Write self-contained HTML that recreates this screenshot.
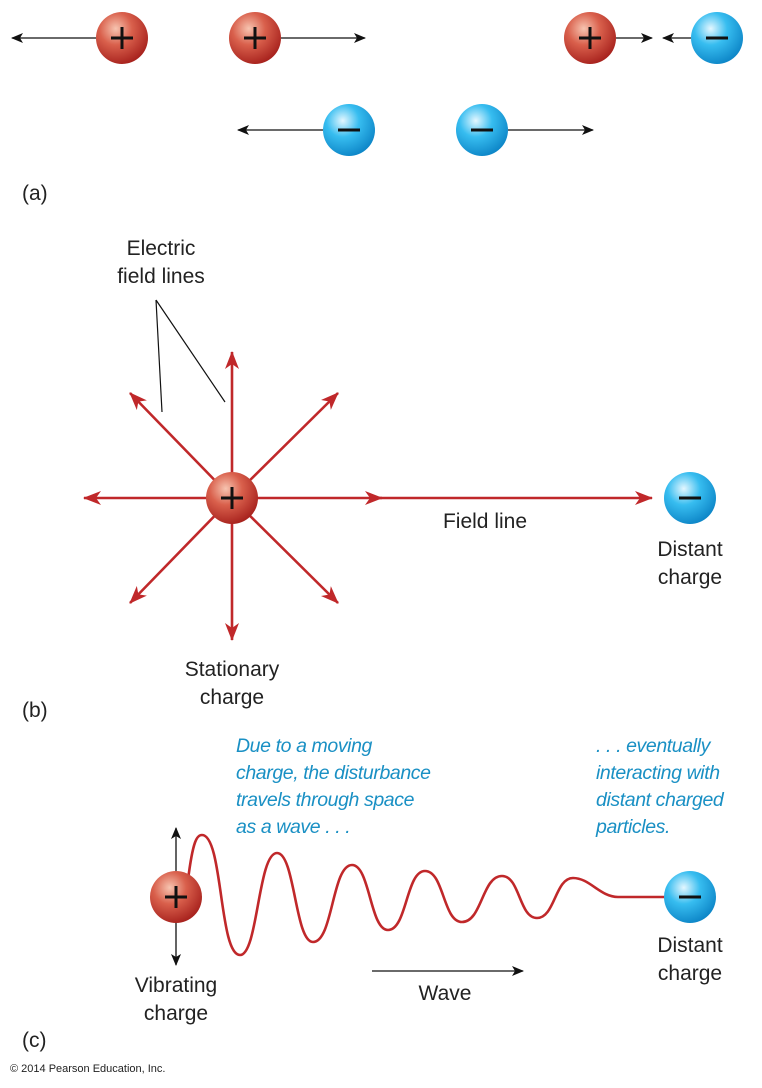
<!DOCTYPE html>
<html><head><meta charset="utf-8"><style>
body{margin:0;background:#fff}
svg{display:block}
text{font-family:"Liberation Sans",sans-serif;font-size:21px;fill:#222}
.i{font-style:italic;fill:#1a90c4;font-size:19.5px;letter-spacing:-0.4px}
</style></head><body>
<svg width="762" height="1088" viewBox="0 0 762 1088">
<defs>
<radialGradient id="r" cx="0.38" cy="0.32" r="0.7"><stop offset="0" stop-color="#f7c4b0"/><stop offset="0.45" stop-color="#d9604c"/><stop offset="1" stop-color="#a8231e"/></radialGradient>
<radialGradient id="b" cx="0.38" cy="0.32" r="0.7"><stop offset="0" stop-color="#e4f7ff"/><stop offset="0.45" stop-color="#37bdf0"/><stop offset="1" stop-color="#0e87c8"/></radialGradient>
<marker id="ak" markerWidth="12" markerHeight="10" refX="11" refY="5" orient="auto" markerUnits="userSpaceOnUse"><path d="M0,0 L12,5 L0,10 L3,5Z" fill="#111"/></marker>
<marker id="ar" markerWidth="18" markerHeight="14" refX="17" refY="7" orient="auto" markerUnits="userSpaceOnUse"><path d="M0,0 L18,7 L0,14 L5,7Z" fill="#c0282a"/></marker>
<g id="P"><circle r="26" fill="url(#r)"/><path d="M-11,0H11M0,-11V11" stroke="#111" stroke-width="3"/></g>
<g id="N"><circle r="26" fill="url(#b)"/><path d="M-11,0H11" stroke="#111" stroke-width="3"/></g>
</defs>
<g stroke="#111" stroke-width="1.3" marker-end="url(#ak)">
<line x1="96" y1="38" x2="12" y2="38"/><line x1="281" y1="38" x2="365" y2="38"/>
<line x1="616" y1="38" x2="652" y2="38"/><line x1="691" y1="38" x2="663" y2="38"/>
<line x1="323" y1="130" x2="238" y2="130"/><line x1="508" y1="130" x2="593" y2="130"/>
</g>
<use href="#P" x="122" y="38"/><use href="#P" x="255" y="38"/><use href="#P" x="590" y="38"/><use href="#N" x="717" y="38"/>
<use href="#N" x="349" y="130"/><use href="#N" x="482" y="130"/>
<text x="22" y="200">(a)</text>
<text x="161" y="255" text-anchor="middle">Electric</text><text x="161" y="283" text-anchor="middle">field lines</text>
<path d="M156,300L162,412M156,300L225,402" stroke="#111" stroke-width="1.2" fill="none"/>
<g stroke="#c0282a" stroke-width="2.6" marker-end="url(#ar)">
<line x1="232" y1="498" x2="232" y2="352"/><line x1="232" y1="498" x2="232" y2="640"/>
<line x1="232" y1="498" x2="84" y2="498"/><line x1="232" y1="498" x2="382" y2="498"/>
<line x1="370" y1="498" x2="652" y2="498"/>
<line x1="232" y1="498" x2="130" y2="393"/><line x1="232" y1="498" x2="338" y2="393"/>
<line x1="232" y1="498" x2="130" y2="603"/><line x1="232" y1="498" x2="338" y2="603"/>
</g>
<use href="#P" x="232" y="498"/><use href="#N" x="690" y="498"/>
<text x="485" y="528" text-anchor="middle">Field line</text>
<text x="690" y="556" text-anchor="middle">Distant</text><text x="690" y="584" text-anchor="middle">charge</text>
<text x="232" y="676" text-anchor="middle">Stationary</text><text x="232" y="704" text-anchor="middle">charge</text>
<text x="22" y="717">(b)</text>
<text class="i" x="236" y="752">Due to a moving</text><text class="i" x="236" y="779">charge, the disturbance</text><text class="i" x="236" y="806">travels through space</text><text class="i" x="236" y="833">as a wave . . .</text>
<text class="i" x="596" y="752">. . . eventually</text><text class="i" x="596" y="779">interacting with</text><text class="i" x="596" y="806">distant charged</text><text class="i" x="596" y="833">particles.</text>
<g stroke="#111" stroke-width="1.3" marker-end="url(#ak)">
<line x1="176" y1="880" x2="176" y2="828"/><line x1="176" y1="915" x2="176" y2="965"/>
<line x1="372" y1="971" x2="523" y2="971"/>
</g>
<path d="M188,880 C193,840 197,835 202,835 C223,835 219,955 240,955 C258,955 258,853 277,853 C295,853 295,942 313,942 C333,942 332,865 352,865 C370,865 370,930 388,930 C407,930 406,871 425,871 C444,871 443,922 462,922 C482,922 482,876 502,876 C520,876 519,918 537,918 C555,918 555,878 573,878 C590,878 600,897 618,897 L668,897" fill="none" stroke="#c0282a" stroke-width="2.6"/>
<use href="#P" x="176" y="897"/><use href="#N" x="690" y="897"/>
<text x="176" y="992" text-anchor="middle">Vibrating</text><text x="176" y="1020" text-anchor="middle">charge</text>
<text x="690" y="952" text-anchor="middle">Distant</text><text x="690" y="980" text-anchor="middle">charge</text>
<text x="445" y="1000" text-anchor="middle">Wave</text>
<text x="22" y="1047">(c)</text>
<text x="10" y="1072" style="font-size:11px">© 2014 Pearson Education, Inc.</text>
</svg>
</body></html>
